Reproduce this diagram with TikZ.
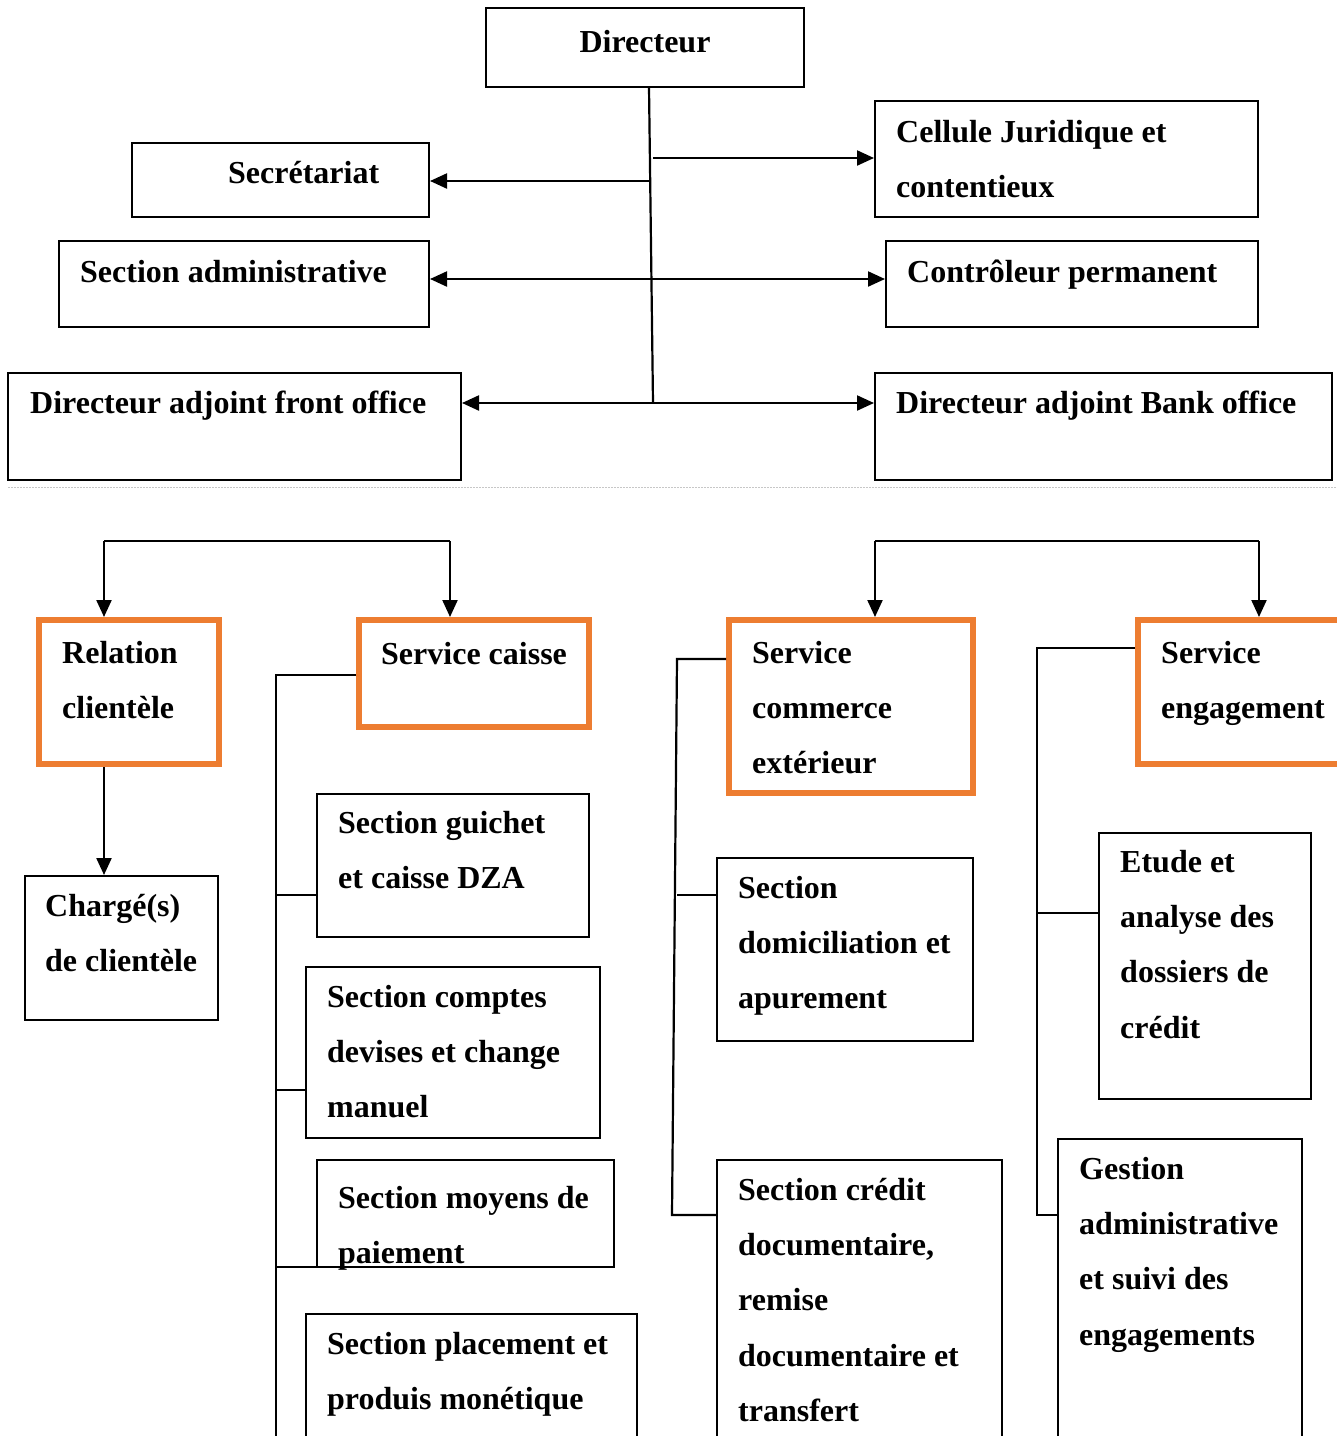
\documentclass[tikz,border=0pt]{standalone}
\usepackage{fontspec}
\setmainfont{Liberation Serif}
\usetikzlibrary{arrows.meta}
\definecolor{unitorange}{HTML}{ED7D31}
\tikzset{
    unit/.style={rectangle, draw=black, line width=2pt, inner sep=0pt},
    service/.style={rectangle, draw=unitorange, line width=6pt, inner sep=0pt},
    caption/.style={anchor=base west, align=left, inner sep=0pt, font=\fontsize{32}{55.4}\selectfont\bfseries},
    link/.style={draw=black, line width=2.2pt},
    linkarrow/.style={link, -{Triangle[length=17pt, width=15pt]}},
    bilink/.style={link, {Triangle[length=17pt, width=15pt]}-{Triangle[length=17pt, width=15pt]}}
}

\begin{document}
\begin{tikzpicture}[x=1pt, y=-1pt]
        \useasboundingbox (0,0) rectangle (1337,1436);
        \clip (0,0) rectangle (1337,1436);

        % Direction (captions sit on the baseline of their last line)
        \node[unit, minimum width=318, minimum height=79] (dir) at (645,47.5) {};
        \node[caption, anchor=base] (dir-t) at (645,52) {Directeur};
        \node[unit, minimum width=297, minimum height=74] (secr) at (280.5,180) {};
        \node[caption] (secr-t) at (228,183) {Secrétariat};
        \node[unit, minimum width=383, minimum height=116] (cell) at (1066.5,159) {};
        \node[caption] (cell-t) at (896,197.4) {Cellule Juridique et\\contentieux};
        \node[unit, minimum width=370, minimum height=86] (sadm) at (244,284) {};
        \node[caption] (sadm-t) at (80,282) {Section administrative};
        \node[unit, minimum width=372, minimum height=86] (ctrl) at (1072,284) {};
        \node[caption] (ctrl-t) at (907,282) {Contrôleur permanent};
        \node[unit, minimum width=453, minimum height=107] (dafo) at (234.5,426.5) {};
        \node[caption] (dafo-t) at (30,413) {Directeur adjoint front office};
        \node[unit, minimum width=457, minimum height=107] (dabo) at (1103.5,426.5) {};
        \node[caption] (dabo-t) at (896,413) {Directeur adjoint Bank office};

        % Connections for Direction
        \coordinate (t0) at (649,87);
        \coordinate (t1) at (653,403);
        \coordinate (jc) at (653,158);
        \coordinate (js) at (649,181);
        \coordinate (ja) at (651,279);
        \draw[link] (t0) -- (t1);
        \draw[linkarrow] (jc) -- (jc -| cell.west);
        \draw[linkarrow] (js) -- (js -| secr.east);
        \draw[bilink] (ja -| sadm.east) -- (ja -| ctrl.west);
        \draw[bilink] (t1 -| dafo.east) -- (t1 -| dabo.west);

        \draw[black!22, line width=1pt, dash pattern=on 2pt off 1pt] (8,487) -- (1337,487);

        % Front office
        \node[service, minimum width=180, minimum height=144] (rel) at (129,692) {};
        \node[caption] (rel-t) at (62,718.4) {Relation\\clientèle};
        \node[unit, minimum width=193, minimum height=144] (charg) at (121.5,948) {};
        \node[caption] (charg-t) at (45,971.4) {Chargé(s)\\de clientèle};
        \node[service, minimum width=230, minimum height=107] (caisse) at (474,673.5) {};
        \node[caption] (caisse-t) at (381,664) {Service caisse};
        \node[unit, minimum width=272, minimum height=143] (guich) at (453,865.5) {};
        \node[caption] (guich-t) at (338,888.4) {Section guichet\\et caisse DZA};
        \node[unit, minimum width=294, minimum height=171] (compt) at (453,1052.5) {};
        \node[caption] (compt-t) at (327,1117.8) {Section comptes\\devises et change\\manuel};
        \node[unit, minimum width=297, minimum height=107] (moyen) at (465.5,1213.5) {};
        \node[caption] (moyen-t) at (338,1263.4) {Section moyens de\\paiement};
        \node[unit, minimum width=331, minimum height=156] (place) at (471.5,1392) {};
        \node[caption] (place-t) at (327,1409.4) {Section placement et\\produis monétique};

        % Connections for Front office
        \coordinate (fl) at (104,541);
        \coordinate (fr) at (450,541);
        \draw[link] (fl) -- (fr);
        \draw[linkarrow] (fl) -- (fl |- rel.north);
        \draw[linkarrow] (fr) -- (fr |- caisse.north);
        \draw[linkarrow] (fl |- rel.south) -- (fl |- charg.north);
        \coordinate (cs0) at (276,675);
        \coordinate (cs1) at (276,895);
        \coordinate (cs2) at (276,1090);
        \coordinate (cs3) at (276,1267);
        \coordinate (cs4) at (276,1440);
        \draw[link] (cs0 -| caisse.west) -- (cs0) -- (cs4);
        \draw[link] (cs1) -- (cs1 -| guich.west);
        \draw[link] (cs2) -- (cs2 -| compt.west);
        \draw[link] (cs3) -- (cs3 -| moyen.west);

        % Back office
        \node[service, minimum width=244, minimum height=173] (comm) at (851,706.5) {};
        \node[caption] (comm-t) at (752,773.8) {Service\\commerce\\extérieur};
        \node[unit, minimum width=256, minimum height=183] (domic) at (845,949.5) {};
        \node[caption] (domic-t) at (738,1008.8) {Section\\domiciliation et\\apurement};
        \node[unit, minimum width=285, minimum height=310] (credit) at (859.5,1315) {};
        \node[caption] (credit-t) at (738,1421.6) {Section crédit\\documentaire,\\remise\\documentaire et\\transfert};
        \node[service, minimum width=232, minimum height=144] (engag) at (1254,692) {};
        \node[caption] (engag-t) at (1161,718.4) {Service\\engagement};
        \node[unit, minimum width=212, minimum height=266] (etude) at (1205,966) {};
        \node[caption] (etude-t) at (1120,1038.2) {Etude et\\analyse des\\dossiers de\\crédit};
        \node[unit, minimum width=244, minimum height=331] (gestion) at (1180,1304.5) {};
        \node[caption] (gestion-t) at (1079,1345.2) {Gestion\\administrative\\et suivi des\\engagements};

        % Connections for Back office
        \coordinate (bl) at (875,541);
        \coordinate (br) at (1259,541);
        \draw[link] (bl) -- (br);
        \draw[linkarrow] (bl) -- (bl |- comm.north);
        \draw[linkarrow] (br) -- (br |- engag.north);
        \coordinate (cm0) at (677,659);
        \coordinate (cm1) at (677,895);
        \coordinate (cm2) at (672,1215);
        \draw[link] (cm0 -| comm.west) -- (cm0) -- (cm2) -- (cm2 -| credit.west);
        \draw[link] (cm1) -- (cm1 -| domic.west);
        \coordinate (eg0) at (1037,648);
        \coordinate (eg1) at (1037,913);
        \coordinate (eg2) at (1037,1215);
        \draw[link] (eg0 -| engag.west) -- (eg0) -- (eg2) -- (eg2 -| gestion.west);
        \draw[link] (eg1) -- (eg1 -| etude.west);

    \end{tikzpicture}
\end{document}
